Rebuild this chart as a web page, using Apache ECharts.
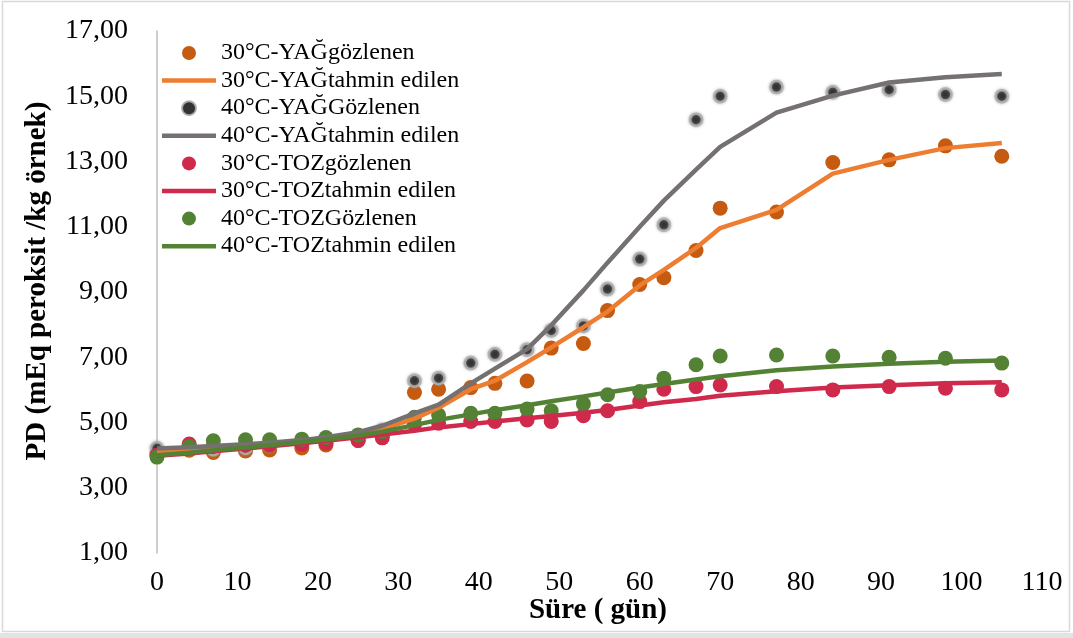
<!DOCTYPE html>
<html>
<head>
<meta charset="utf-8">
<script src="https://cdn.jsdelivr.net/npm/echarts@6/dist/echarts.min.js"></script>
<style>
  html, body { margin: 0; padding: 0; background: #ffffff; }
  #chart { width: 1073px; height: 638px; }
</style>
</head>
<body>
<div id="chart"></div>
<script>
// Storage days (gün)
const days = [0, 4, 7, 11, 14, 18, 21, 25, 28, 32, 35, 39, 42, 46, 49, 53, 56, 60, 63, 67, 70, 77, 84, 91, 98, 105];

// Peroxide value, mEq peroksit / kg örnek
const obs30Yag  = [4.05, 4.15, 4.08, 4.13, 4.16, 4.22, 4.31, 4.45, 4.60, 5.92, 6.02, 6.07, 6.20, 6.27, 7.28, 7.42, 8.43, 9.23, 9.44, 10.27, 11.57, 11.45, 12.97, 13.05, 13.48, 13.16];
const pred30Yag = [4.10, 4.15, 4.20, 4.27, 4.33, 4.42, 4.50, 4.62, 4.80, 5.12, 5.45, 6.02, 6.28, 6.85, 7.30, 7.92, 8.40, 9.20, 9.68, 10.35, 10.96, 11.52, 12.63, 13.05, 13.41, 13.57];
const obs40Yag  = [4.21, 4.22, 4.18, 4.22, 4.30, 4.40, 4.45, 4.55, 4.77, 6.28, 6.36, 6.82, 7.09, 7.23, 7.82, 7.96, 9.09, 10.01, 11.06, 14.28, 15.00, 15.28, 15.12, 15.20, 15.05, 15.00];
const pred40Yag = [4.20, 4.24, 4.28, 4.33, 4.38, 4.46, 4.55, 4.70, 4.90, 5.28, 5.55, 6.20, 6.65, 7.25, 7.98, 9.05, 9.90, 11.00, 11.80, 12.75, 13.45, 14.50, 15.02, 15.42, 15.58, 15.68];
const obs30Toz  = [4.00, 4.34, 4.28, 4.31, 4.31, 4.33, 4.37, 4.45, 4.53, 4.95, 4.98, 5.03, 5.03, 5.08, 5.03, 5.21, 5.36, 5.64, 6.02, 6.10, 6.15, 6.10, 6.00, 6.10, 6.05, 6.00];
const pred30Toz = [3.98, 4.05, 4.12, 4.20, 4.27, 4.36, 4.44, 4.55, 4.63, 4.75, 4.85, 4.95, 5.03, 5.13, 5.20, 5.30, 5.38, 5.52, 5.62, 5.72, 5.82, 5.96, 6.07, 6.14, 6.20, 6.23];
const obs40Toz  = [3.94, 4.26, 4.44, 4.47, 4.47, 4.49, 4.54, 4.62, 4.72, 5.16, 5.23, 5.28, 5.28, 5.41, 5.36, 5.57, 5.85, 5.95, 6.36, 6.77, 7.04, 7.07, 7.04, 7.00, 6.97, 6.82];
const pred40Toz = [4.00, 4.07, 4.15, 4.23, 4.30, 4.40, 4.48, 4.60, 4.72, 4.92, 5.08, 5.25, 5.38, 5.53, 5.65, 5.80, 5.92, 6.07, 6.18, 6.32, 6.42, 6.60, 6.72, 6.80, 6.86, 6.90];

const seriesNames = [
  '30°C-YAĞgözlenen', '30°C-YAĞtahmin edilen',
  '40°C-YAĞGözlenen', '40°C-YAĞtahmin edilen',
  '30°C-TOZgözlenen', '30°C-TOZtahmin edilen',
  '40°C-TOZGözlenen', '40°C-TOZtahmin edilen'
];

const xAxisTitle = 'Süre ( gün)';
const yAxisTitle = 'PD (mEq peroksit /kg örnek)';

const SERIF = '"Liberation Serif", "Times New Roman", serif';
const LINE_W = 4.5;

function pairs(values) {
  return days.map((d, i) => [d, values[i]]);
}

function dots(name, values, color, extra) {
  return Object.assign({
    name: name,
    type: 'scatter',
    data: pairs(values),
    symbol: 'circle',
    symbolSize: 15,
    itemStyle: { color: color, opacity: 1 },
    emphasis: { disabled: true }
  }, extra || {});
}

function curve(name, values, color) {
  return {
    name: name,
    type: 'line',
    data: pairs(values),
    symbol: 'none',
    showSymbol: false,
    smooth: false,
    lineStyle: { color: color, width: LINE_W },
    itemStyle: { color: color },
    emphasis: { disabled: true }
  };
}

// Legend entries: dots for observed series, a flat bar for fitted ones
const BAR_ICON = 'path://M0,0 H54 V4.5 H0 Z';
const legendData = seriesNames.map((name, i) =>
  i % 2 === 0 ? { name: name } : { name: name, icon: BAR_ICON }
);

const chart = echarts.init(document.getElementById('chart'), null, { renderer: 'canvas' });

chart.setOption({
  animation: false,
  backgroundColor: '#ffffff',
  grid: { left: 157, right: 31, top: 31, bottom: 85, containLabel: false },
  xAxis: {
    type: 'value',
    min: 0,
    max: 110,
    interval: 10,
    axisLine: { show: false },
    axisTick: { show: false },
    splitLine: { show: false },
    axisLabel: {
      margin: 16,
      color: '#000000',
      fontFamily: SERIF,
      fontSize: 28
    }
  },
  yAxis: {
    type: 'value',
    min: 1,
    max: 17,
    interval: 2,
    axisLine: { show: true, lineStyle: { color: '#bfbfbf', width: 1.5 } },
    axisTick: { show: false },
    splitLine: { show: false },
    axisLabel: {
      margin: 29,
      color: '#000000',
      fontFamily: SERIF,
      fontSize: 28,
      formatter: v => v.toFixed(2).replace('.', ',')
    }
  },
  legend: {
    orient: 'vertical',
    left: 162,
    top: 41,
    padding: 0,
    itemWidth: 54,
    itemHeight: 14,
    itemGap: 3.6,
    data: legendData,
    lineStyle: { width: LINE_W },
    textStyle: {
      color: '#000000',
      fontFamily: SERIF,
      fontSize: 24,
      lineHeight: 22
    }
  },
  graphic: [
    {
      type: 'rect',
      silent: true,
      shape: { x: 2.5, y: 1.5, width: 1067, height: 630 },
      style: { fill: 'none', stroke: '#d9d9d9', lineWidth: 1.5 },
      z: -10
    },
    {
      type: 'rect',
      silent: true,
      shape: { x: 0, y: 633, width: 1073, height: 5 },
      style: { fill: '#e3e3e3' },
      z: -10
    },
    {
      type: 'text',
      silent: true,
      x: 38,
      y: 281,
      rotation: Math.PI / 2,
      style: {
        text: yAxisTitle,
        fill: '#000000',
        font: 'bold 29px ' + SERIF,
        align: 'center',
        verticalAlign: 'middle'
      }
    },
    {
      type: 'text',
      silent: true,
      x: 598,
      y: 611,
      style: {
        text: xAxisTitle,
        fill: '#000000',
        font: 'bold 29px ' + SERIF,
        align: 'center',
        verticalAlign: 'middle'
      }
    }
  ],
  series: [
    dots(seriesNames[0], obs30Yag, '#c55a11'),
    curve(seriesNames[1], pred30Yag, '#ed7d31'),
    dots(seriesNames[2], obs40Yag, '#333333', {
      symbolSize: 12,
      itemStyle: {
        color: '#333333',
        opacity: 1,
        borderColor: 'rgba(175,175,175,0.9)',
        borderWidth: 2.5,
        shadowBlur: 3,
        shadowColor: 'rgba(150,150,150,0.8)'
      }
    }),
    curve(seriesNames[3], pred40Yag, '#767171'),
    dots(seriesNames[4], obs30Toz, '#cf2a4b'),
    curve(seriesNames[5], pred30Toz, '#cf2a4b'),
    dots(seriesNames[6], obs40Toz, '#548235'),
    curve(seriesNames[7], pred40Toz, '#548235')
  ]
});
</script>
</body>
</html>
